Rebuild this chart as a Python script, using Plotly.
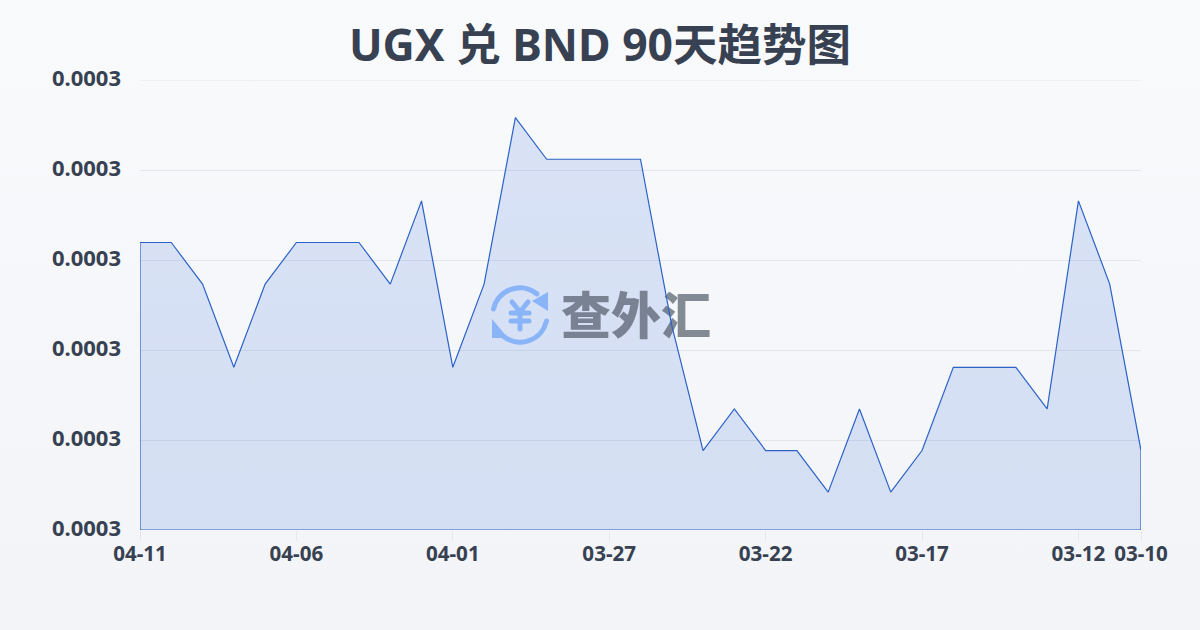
import base64
import plotly.graph_objects as go

# Rate levels (all display as 0.0003)
dates = ["04-11","04-10","04-09","04-08","04-07","04-06","04-05","04-04","04-03","04-02","04-01",
         "03-31","03-30","03-29","03-28","03-27","03-26","03-25","03-24","03-23","03-22","03-21",
         "03-20","03-19","03-18","03-17","03-16","03-15","03-14","03-13","03-12","03-11","03-10"]
rates = [0.000284,0.000284,0.000283,0.000281,0.000283,0.000284,0.000284,0.000284,0.000283,0.000285,0.000281,
         0.000283,0.000287,0.000286,0.000286,0.000286,0.000286,0.000282,0.000279,0.000280,0.000279,0.000279,
         0.000278,0.000280,0.000278,0.000279,0.000281,0.000281,0.000281,0.000280,0.000285,0.000283,0.000279]
x_ticks = [0,5,10,15,20,25,30,32]
x_labels = [dates[i] for i in x_ticks]
title = "UGX 兑 BND 90天趋势图"
logo_text = "查外汇"

TEXT = "#374151"
LINE = "#2b62c8"
y_min = 0.00027709
y_step = 0.000002163
y_ticks = [y_min + y_step*i for i in range(6)]
xs = list(range(len(dates)))

def svg_uri(svg):
    return "data:image/svg+xml;base64," + base64.b64encode(svg.encode()).decode()

bg_svg = ('<svg xmlns="http://www.w3.org/2000/svg" width="1200" height="630" preserveAspectRatio="none">'
          '<defs><linearGradient id="g" x1="0" y1="0" x2="0" y2="1"><stop offset="0" stop-color="#f9fafc"/>'
          '<stop offset="1" stop-color="#f2f4f7"/></linearGradient></defs>'
          '<rect width="1200" height="630" fill="url(#g)"/></svg>')
icon_svg = ('<svg xmlns="http://www.w3.org/2000/svg" width="60" height="60" viewBox="0 0 60 60">'
            '<g fill="none" stroke="#8ab4f8" stroke-width="5" stroke-linecap="round" stroke-linejoin="round">'
            '<path d="M3.5 24 A27 27 0 0 1 47 9"/><path d="M56.5 36 A27 27 0 0 1 13 51"/>'
            '<path d="M22 17 L30 27 L38 17 M30 27 V44 M21 28 H39 M21 36 H39"/></g>'
            '<path fill="#8ab4f8" d="M42 16 L58 7 L58 26 Z M2 34 L18 53 L2 53 Z"/></svg>')

fig = go.Figure()
fig.add_trace(go.Scatter(x=xs, y=rates, mode="lines", line=dict(width=0), fill="tozeroy",
                         fillgradient=dict(type="vertical",
                                           colorscale=[[0,"rgba(41,97,217,0.15)"],[1,"rgba(41,97,217,0.15)"]]),
                         hoverinfo="skip", showlegend=False))
fig.add_trace(go.Scatter(x=[15.86], y=[y_min + (530-321)/90*y_step], mode="text", text=[logo_text],
                         textposition="middle center",
                         textfont=dict(family="Noto Sans CJK SC", size=50, color="rgba(75,85,99,0.68)", weight=900),
                         hoverinfo="skip", showlegend=False))
fig.add_trace(go.Scatter(x=xs + [32, 0, 0], y=rates + [y_min, y_min, rates[0]], mode="lines", cliponaxis=False,
                         line=dict(color=LINE, width=1.2), hoverinfo="skip", showlegend=False))

fig.update_layout(
    width=1200, height=630, autosize=False,
    margin=dict(l=140, r=59, t=80, b=100),
    paper_bgcolor="#f6f7fa", plot_bgcolor="rgba(0,0,0,0)",
    font=dict(family="Noto Sans, Noto Sans CJK SC, sans-serif", color=TEXT),
    title=dict(text=title, x=0.5, xanchor="center", y=0.928, yanchor="middle",
               font=dict(family="Noto Sans, Noto Sans CJK SC, sans-serif", size=44.5, color=TEXT, weight=700)),
    xaxis=dict(range=[0,32], tickmode="array", tickvals=x_ticks, ticktext=x_labels, showgrid=False, zeroline=False,
               ticks="outside", ticklen=10, tickcolor="#e5e7eb", tickwidth=1, ticklabelstandoff=-5,
               tickfont=dict(size=20.6, color=TEXT, weight=700), showline=False),
    yaxis=dict(range=[y_min, y_min+5*y_step], tickmode="array", tickvals=y_ticks, tickformat=".4f",
               showgrid=True, gridcolor="rgba(200,205,215,0.4)", gridwidth=1, zeroline=False, ticks="",
               ticklen=0, ticklabelstandoff=18, ticklabelshift=-2,
               tickfont=dict(size=22, color=TEXT, weight=700), showline=False),
    shapes=[dict(type="line", xref="paper", x0=0, x1=1, yref="y", y0=y_ticks[-1], y1=y_ticks[-1],
                 line=dict(color="rgba(200,205,215,0.4)", width=1), layer="below")],
    images=[
        dict(source=svg_uri(bg_svg), xref="paper", yref="paper", x=-140/1001, y=1+80/450, sizex=1200/1001, sizey=630/450,
             xanchor="left", yanchor="top", sizing="stretch", layer="below"),
        dict(source=svg_uri(icon_svg), xref="paper", yref="paper", x=(490-140)/1001, y=(530-285)/450, sizex=60/1001, sizey=60/450,
             xanchor="left", yanchor="top", sizing="stretch", layer="above"),
    ],
)
fig.write_html("out.html", config={"displayModeBar": False},
               post_script="document.body.style.margin='0';document.documentElement.style.overflow='hidden';")
